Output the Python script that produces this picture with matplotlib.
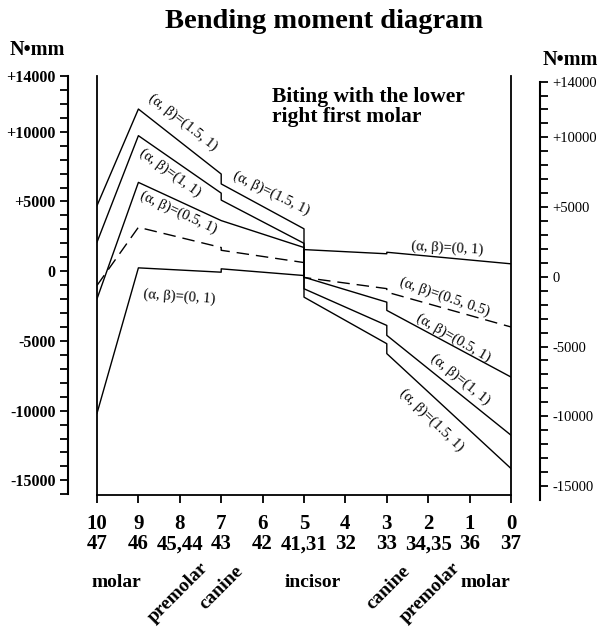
import matplotlib.pyplot as plt
from matplotlib.ticker import MultipleLocator

plt.rcParams['font.family'] = ['Liberation Serif', 'DejaVu Serif']

# positions along the arch, 10 (tooth 47) to 0 (tooth 37); repeated x = step
pos = [10, 9, 7, 7, 5, 5, 3, 3, 0]

# bending moment (N*mm) for each (alpha, beta) case
m_15_1 = [4700, 11630, 6970, 6260, 3040, -1860, -5200, -5910, -14150]
m_1_1 = [2080, 9720, 5600, 5100, 2000, -1260, -3890, -4600, -11760]
m_05_1 = [-1980, 6370, 3630, 3630, 1700, -430, -2220, -2810, -7590]
m_05_05 = [-1020, 3150, 1700, 1500, 620, -450, -1250, -1500, -4000]
m_0_1 = [-10190, 240, -70, 170, -310, 1550, 1250, 1360, 530]

tick_pos = [10, 9, 8, 7, 6, 5, 4, 3, 2, 1, 0]
tooth_no = ['47', '46', '45,44', '43', '42', '41,31', '32', '33', '34,35', '36', '37']

y_major = [14000, 10000, 5000, 0, -5000, -10000, -15000]
y_major_lbl = ['+14000', '+10000', '+5000', '0', '-5000', '-10000', '-15000']

# curve labels: text, x, moment, angle
curve_lbl = [
    ('(α, β)=(1.5, 1)', 7.92, 10650, -38),
    ('(α, β)=(1.5, 1)', 5.80, 5560, -26),
    ('(α, β)=(1, 1)', 8.24, 7070, -36),
    ('(α, β)=(0.5, 1)', 8.04, 4200, -25),
    ('(α, β)=(0, 1)', 8.00, -1810, -4),
    ('(α, β)=(0, 1)', 1.55, 1630, -3),
    ('(α, β)=(0.5, 0.5)', 1.59, -1880, -19),
    ('(α, β)=(0.5, 1)', 1.40, -4820, -30),
    ('(α, β)=(1, 1)', 1.23, -7750, -39),
    ('(α, β)=(1.5, 1)', 1.91, -10690, -44),
]

# tooth groups under the axis: name, x, y (axes fraction), angle
groups = [
    ('molar', 9.54, -0.208, 0),
    ('premolar', 8.04, -0.234, 45),
    ('canine', 7.0, -0.222, 45),
    ('incisor', 4.78, -0.208, 0),
    ('canine', 2.97, -0.222, 45),
    ('premolar', 1.96, -0.232, 45),
    ('molar', 0.63, -0.210, 0),
]

fig = plt.figure(figsize=(6.01, 6.28), dpi=100)
ax = fig.add_axes([97 / 601, 133 / 628, 414 / 601, 419 / 628])

ax.plot(pos, m_15_1, color='black', lw=1.0)
ax.plot(pos, m_1_1, color='black', lw=1.0)
ax.plot(pos, m_05_1, color='black', lw=1.0)
ax.plot(pos, m_05_05, color='black', lw=1.0, ls=(0, (9, 5)))
ax.plot(pos, m_0_1, color='black', lw=1.0)

ax.set_xlim(10, 0)
ax.set_ylim(-16050, 14000)

ax.spines['top'].set_visible(False)
for s in ['left', 'right', 'bottom']:
    ax.spines[s].set_linewidth(1.3)
ax.tick_params(axis='y', left=False, right=False, labelleft=False)

ax.set_xticks(tick_pos, labels=[f'{t}\n{n}' for t, n in zip(tick_pos, tooth_no)])
ax.tick_params(axis='x', direction='out', length=6, width=1.3, pad=8, labelsize=15)
for lbl in ax.get_xticklabels():
    lbl.set_fontweight('bold')
    lbl.set_linespacing(1.0)

# left moment scale
sl = ax.secondary_yaxis(-0.07)
sl.set_yticks(y_major, labels=y_major_lbl)
sl.yaxis.set_minor_locator(MultipleLocator(1000))
sl.tick_params(which='both', length=6, width=1.3, pad=3, labelsize=11.5)
sl.spines['left'].set_linewidth(1.5)
sl.spines['left'].set_bounds(-16000, 14000)
for lbl in sl.get_yticklabels():
    lbl.set_fontweight('bold')

# right moment scale
sr = ax.secondary_yaxis(1.07, functions=(lambda v: v + 400, lambda r: r - 400))
sr.set_yticks(y_major, labels=y_major_lbl)
sr.yaxis.set_minor_locator(MultipleLocator(1000))
sr.tick_params(which='both', length=6, width=1.3, pad=3, labelsize=10.5)
sr.spines['right'].set_linewidth(1.5)
sr.spines['right'].set_bounds(-16000, 14000)

for txt, x, y, rot in curve_lbl:
    ax.text(x, y, txt, rotation=rot, rotation_mode='anchor',
            ha='center', va='center', fontsize=10.5)

for name, x, y, rot in groups:
    ax.text(x, y, name, transform=ax.get_xaxis_transform(), rotation=rot,
            rotation_mode='anchor', ha='center', va='center',
            fontsize=14, fontweight='bold')

fig.text(324 / 601, 1 - 21 / 628, 'Bending moment diagram', ha='center', va='center',
         fontsize=20.5, fontweight='bold')
fig.text(37 / 601, 1 - 50 / 628, 'N•mm', ha='center', va='center',
         fontsize=14.5, fontweight='bold')
fig.text(570 / 601, 1 - 60 / 628, 'N•mm', ha='center', va='center',
         fontsize=14.5, fontweight='bold')
fig.text(272 / 601, 1 - 107 / 628, 'Biting with the lower\nright first molar',
         ha='left', va='center', fontsize=15.5, fontweight='bold', linespacing=0.95)

fig.savefig('out.png', dpi=100)
